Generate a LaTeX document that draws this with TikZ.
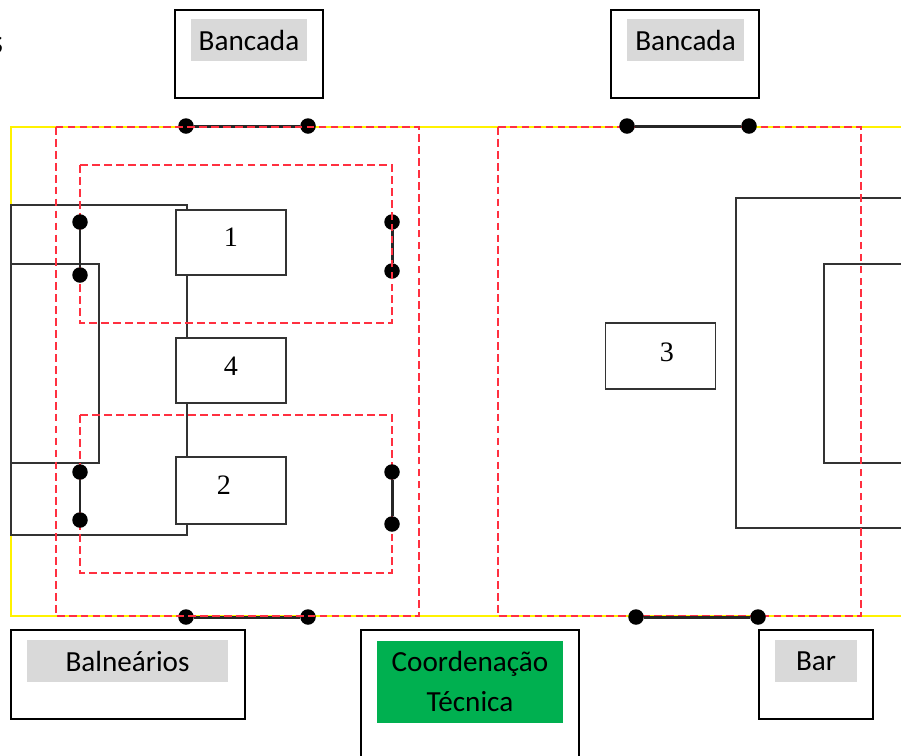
\documentclass[tikz,border=0pt]{standalone}
\usepackage{fontspec}
\setmainfont{Carlito}
\newfontfamily\digitfont{Liberation Serif}
\definecolor{labelgray}{HTML}{D9D9D9}
\definecolor{techgreen}{HTML}{00B050}
\definecolor{zonered}{HTML}{FF3040}
\tikzset{
    roombox/.style = {draw = black, line width = 0.95pt, fill = white, inner sep = 0pt},
    roomlabel/.style = {fill = labelgray, inner sep = 0pt, minimum height = 0.83cm,
        font = \fontsize{16.6}{23.2}\selectfont},
    playerbox/.style = {draw = black!80, line width = 0.85pt, fill = white, inner sep = 0pt,
        minimum width = 2.2cm},
    numberlabel/.style = {font = \digitfont\fontsize{16}{18}\selectfont, inner sep = 0pt},
    goalpost/.style = {circle, fill = black, inner sep = 0pt, minimum size = 0.31cm},
    goalbar/.style = {draw = black!85, line width = 1.7pt},
    zone/.style = {draw = zonered, line width = 0.9pt, dash pattern = on 4.4pt off 2.4pt},
    fieldline/.style = {draw = black!80, line width = 0.85pt},
    boundary/.style = {draw = yellow, line width = 1pt}
}

\begin{document}
\begin{tikzpicture}[x = 0.02cm, y = -0.02cm]
    \useasboundingbox (0, 0) rectangle (901, 755);

    \node [font = \fontsize{20}{22}\selectfont, inner sep = 0pt, anchor = east] (cutoff) at (3.5, 45) {s};

    % outer yellow line
    \draw [boundary] (901, 127) -- (11, 127) -- (11, 205);
    \draw [boundary] (11, 535) -- (11, 616) -- (901, 616);

    % field lines
    \draw [fieldline] (11, 205) rectangle (187, 535);
    \draw [fieldline] (11, 264) rectangle (99, 463);
    \draw [fieldline] (736, 198) rectangle (960, 528);
    \draw [fieldline] (824, 264) rectangle (960, 463);

    \node [playerbox, minimum height = 1.3cm] (one) at (231, 242.5) {};
    \node [playerbox, minimum height = 1.3cm] (four) at (231, 370.5) {};
    \node [playerbox, minimum height = 1.34cm] (two) at (231, 490.5) {};
    \node [playerbox, minimum height = 1.32cm] (three) at (660.5, 356) {};
    \node [numberlabel] (onetext) at (231, 237) {1};
    \node [numberlabel] (fourtext) at (231, 366) {4};
    \node [numberlabel] (twotext) at (224, 485) {2};
    \node [numberlabel] (threetext) at (667, 352) {3};

    % goals under the dashed lines
    \node [goalpost] (topa) at (186, 126) {};
    \node [goalpost] (topb) at (308, 126) {};
    \draw [goalbar] (topa) -- (topb);
    \node [goalpost] (bota) at (186, 617) {};
    \node [goalpost] (botb) at (308, 617) {};
    \draw [goalbar] (bota) -- (botb);
    \node [goalpost] (upra) at (392, 222) {};
    \node [goalpost] (uprb) at (392, 271) {};
    \draw [goalbar] (upra) -- (uprb);

    % dashed zones
    \draw [zone] (56, 127) rectangle (419, 616);
    \draw [zone] (498, 127) rectangle (861, 616);
    \draw [zone] (80, 165) rectangle (392, 323);
    \draw [zone] (80, 415) rectangle (392, 573);

    % goals over the dashed lines
    \node [goalpost] (upla) at (80, 222) {};
    \node [goalpost] (uplb) at (80, 275) {};
    \draw [goalbar] (upla) -- (uplb);
    \node [goalpost] (lola) at (80, 472) {};
    \node [goalpost] (lolb) at (80, 520) {};
    \draw [goalbar] (lola) -- (lolb);
    \node [goalpost] (lora) at (392, 472) {};
    \node [goalpost] (lorb) at (392, 524) {};
    \draw [goalbar] (lora) -- (lorb);
    \node [goalpost] (righta) at (627, 126) {};
    \node [goalpost] (rightb) at (749, 126) {};
    \draw [goalbar] (righta) -- (rightb);
    \node [goalpost] (rbota) at (636, 617) {};
    \node [goalpost] (rbotb) at (758, 617) {};
    \draw [goalbar] (rbota) -- (rbotb);

    % rooms
    \node [roombox, minimum width = 2.96cm, minimum height = 1.76cm] (standa) at (249, 54) {};
    \node [roomlabel, minimum width = 2.32cm] (standatext) at (249, 40) {Bancada};
    \node [roombox, minimum width = 2.96cm, minimum height = 1.76cm] (standb) at (685, 54) {};
    \node [roomlabel, minimum width = 2.34cm] (standbtext) at (685.5, 40) {Bancada};
    \node [roombox, minimum width = 4.68cm, minimum height = 1.78cm] (changing) at (128, 674.5) {};
    \node [roomlabel, minimum width = 4.02cm] (changingtext) at (127.5, 661) {Balneários};
    \node [roombox, minimum width = 4.36cm, minimum height = 3.4cm] (coord) at (470, 715) {};
    \node [roomlabel, fill = techgreen, minimum width = 3.72cm, minimum height = 1.64cm, align = center] (coordtext) at (470, 681.5) {Coordenação\\Técnica};
    \node [roombox, minimum width = 2.28cm, minimum height = 1.78cm] (bar) at (816, 674.5) {};
    \node [roomlabel, minimum width = 1.64cm] (bartext) at (816, 661) {Bar};
\end{tikzpicture}
\end{document}
